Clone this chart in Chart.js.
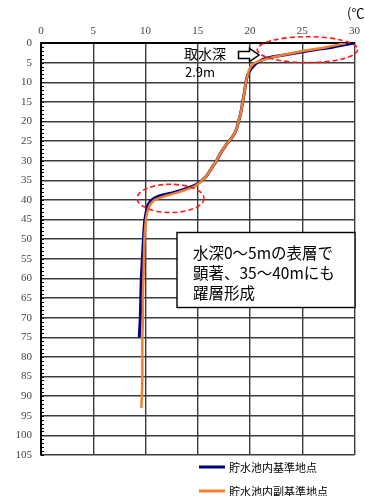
<!DOCTYPE html>
<html>
<head>
<meta charset="utf-8">
<script src="https://cdn.jsdelivr.net/npm/chart.js@4/dist/chart.umd.min.js"></script>
<style>
html,body{margin:0;padding:0;background:#fff;overflow:hidden}
canvas{display:block}
</style>
</head>
<body>
<canvas id="c" width="365" height="496"></canvas>
<script>
// Water temperature profiles (depth in m, temperature in °C)
const depths   = [0, 1, 2, 3, 4, 5, 6, 7, 8, 10, 12, 15, 18, 20, 22, 24, 26, 28, 30, 32, 34, 36, 37, 38, 39, 40, 41, 42, 44, 46, 50, 55, 60, 65, 70, 75, 80, 85, 90, 93];
const tempMain = [30.0, 28.0, 25.6, 23.4, 21.4, 20.7, 20.3, 20.0, 19.8, 19.6, 19.5, 19.3, 19.1, 18.9, 18.7, 18.3, 17.7, 17.2, 16.8, 16.3, 15.8, 14.9, 14.0, 12.8, 11.3, 10.6, 10.3, 10.15, 10.0, 9.9, 9.8, 9.7, 9.6, 9.55, 9.5, 9.4, null, null, null, null];
const tempSub  = [29.2, 27.4, 25.2, 23.3, 21.7, 20.5, 20.1, 19.9, 19.8, 19.6, 19.5, 19.3, 19.1, 18.9, 18.7, 18.3, 17.7, 17.2, 16.8, 16.3, 15.8, 15.0, 14.3, 13.2, 11.9, 10.9, 10.5, 10.3, 10.1, 10.0, 9.9, 9.85, 9.8, 9.75, 9.75, 9.7, 9.7, 9.7, 9.65, 9.6];
const xTickValues = [0, 5, 10, 15, 20, 25, 30];
const yTickValues = [0, 5, 10, 15, 20, 25, 30, 35, 40, 45, 50, 55, 60, 65, 70, 75, 80, 85, 90, 95, 100, 105];
const seriesLabels = ['貯水池内基準地点', '貯水池内副基準地点'];
const seriesColors = ['#00007f', '#f07f2e'];
const unitLabel = '(℃)';
const noteLines = ['水深0～5mの表層で', '顕著、35～40mにも', '躍層形成'];
const intakeLines = ['取水深', '2.9m'];
// highlighted zones: centre (temp, depth) and radii (°C, m)
const zones = [
  {t: 25.5, d: 1.7, rt: 4.8, rd: 3.3},
  {t: 12.4, d: 39.6, rt: 3.2, rd: 3.6}
];

function toPoints(temps) {
  const pts = [];
  depths.forEach((d, i) => { if (temps[i] !== null) pts.push({x: temps[i], y: d}); });
  return pts;
}

const serif = "'Liberation Serif', 'DejaVu Serif', serif";
const sans = "'Noto Sans CJK JP', 'Noto Sans', sans-serif";
const gridColor = '#3c3c3c';

const decor = {
  id: 'decor',
  afterDraw(chart) {
    const {ctx, chartArea: a, scales: {x, y}} = chart;
    ctx.save();

    // minor depth ticks every 1 m on the left axis
    ctx.strokeStyle = '#000';
    ctx.lineWidth = 1;
    for (let d = 0; d <= 105; d++) {
      const py = Math.round(y.getPixelForValue(d)) + 0.5;
      ctx.beginPath();
      ctx.moveTo(a.left, py);
      ctx.lineTo(a.left + 3, py);
      ctx.stroke();
    }

    // red dashed ellipses around thermoclines
    ctx.strokeStyle = '#ff1a1a';
    ctx.lineWidth = 1.6;
    ctx.setLineDash([5, 3]);
    zones.forEach(z => {
      const cx = x.getPixelForValue(z.t);
      const cy = y.getPixelForValue(z.d);
      const rx = Math.abs(x.getPixelForValue(z.t + z.rt) - cx);
      const ry = Math.abs(y.getPixelForValue(z.d + z.rd) - cy);
      ctx.beginPath();
      ctx.ellipse(cx, cy, rx, ry, 0, 0, Math.PI * 2);
      ctx.stroke();
    });
    ctx.setLineDash([]);

    // intake depth label and hollow arrow
    ctx.fillStyle = '#000';
    ctx.font = '14px ' + sans;
    ctx.textBaseline = 'middle';
    ctx.textAlign = 'left';
    ctx.fillText(intakeLines[0], 184, 54);
    ctx.font = '13px ' + sans;
    ctx.fillText(intakeLines[1], 185, 72);

    ctx.beginPath();
    ctx.moveTo(238.5, 51.5);
    ctx.lineTo(249.5, 51.5);
    ctx.lineTo(249.5, 48.5);
    ctx.lineTo(259, 55);
    ctx.lineTo(249.5, 61.5);
    ctx.lineTo(249.5, 58.5);
    ctx.lineTo(238.5, 58.5);
    ctx.closePath();
    ctx.fillStyle = '#fff';
    ctx.fill();
    ctx.strokeStyle = '#000';
    ctx.lineWidth = 1.5;
    ctx.stroke();

    // callout box
    ctx.fillStyle = '#fff';
    ctx.fillRect(177, 232.5, 178, 75);
    ctx.strokeStyle = '#000';
    ctx.lineWidth = 1.4;
    ctx.strokeRect(177, 232.5, 178, 75);
    ctx.fillStyle = '#000';
    ctx.font = '15.5px ' + sans;
    noteLines.forEach((t, i) => ctx.fillText(t, 193, 253 + i * 20));

    // unit label
    ctx.font = '13px ' + sans;
    ctx.fillText(unitLabel, 347, 13);

    // legend
    ctx.font = '11px ' + sans;
    [467, 491].forEach((ly, i) => {
      ctx.strokeStyle = seriesColors[i];
      ctx.lineWidth = 3;
      ctx.beginPath();
      ctx.moveTo(199, ly);
      ctx.lineTo(225, ly);
      ctx.stroke();
      ctx.fillStyle = '#000';
      ctx.fillText(seriesLabels[i], 229, ly + 1);
    });

    ctx.restore();
  }
};

new Chart(document.getElementById('c'), {
  type: 'scatter',
  data: {
    datasets: [
      {
        label: seriesLabels[0],
        data: toPoints(tempMain),
        showLine: true,
        borderColor: seriesColors[0],
        backgroundColor: seriesColors[0],
        borderWidth: 3,
        pointRadius: 0,
        tension: 0.35,
        order: 2
      },
      {
        label: seriesLabels[1],
        data: toPoints(tempSub),
        showLine: true,
        borderColor: seriesColors[1],
        backgroundColor: seriesColors[1],
        borderWidth: 2.5,
        pointRadius: 0,
        tension: 0.35,
        order: 1
      }
    ]
  },
  options: {
    responsive: false,
    animation: false,
    devicePixelRatio: 1,
    layout: {padding: {left: 0, top: 0, right: 3, bottom: 41}},
    plugins: {legend: {display: false}, tooltip: {enabled: false}},
    scales: {
      x: {
        type: 'linear',
        position: 'top',
        min: 0, max: 30,
        afterBuildTicks: s => { s.ticks = xTickValues.map(v => ({value: v})); },
        afterFit: s => { s.height = 43; },
        ticks: {font: {family: serif, size: 11}, color: '#444', padding: 5},
        grid: {color: gridColor, lineWidth: 1.4, drawTicks: false},
        border: {color: '#000', width: 2}
      },
      y: {
        type: 'linear',
        reverse: true,
        min: 0, max: 105,
        afterBuildTicks: s => { s.ticks = yTickValues.map(v => ({value: v})); },
        afterFit: s => { s.width = 41; },
        ticks: {font: {family: serif, size: 11}, color: '#444', padding: 9},
        grid: {color: gridColor, lineWidth: 1.4, drawTicks: false},
        border: {color: '#000', width: 2}
      }
    }
  },
  plugins: [decor]
});
</script>
</body>
</html>
